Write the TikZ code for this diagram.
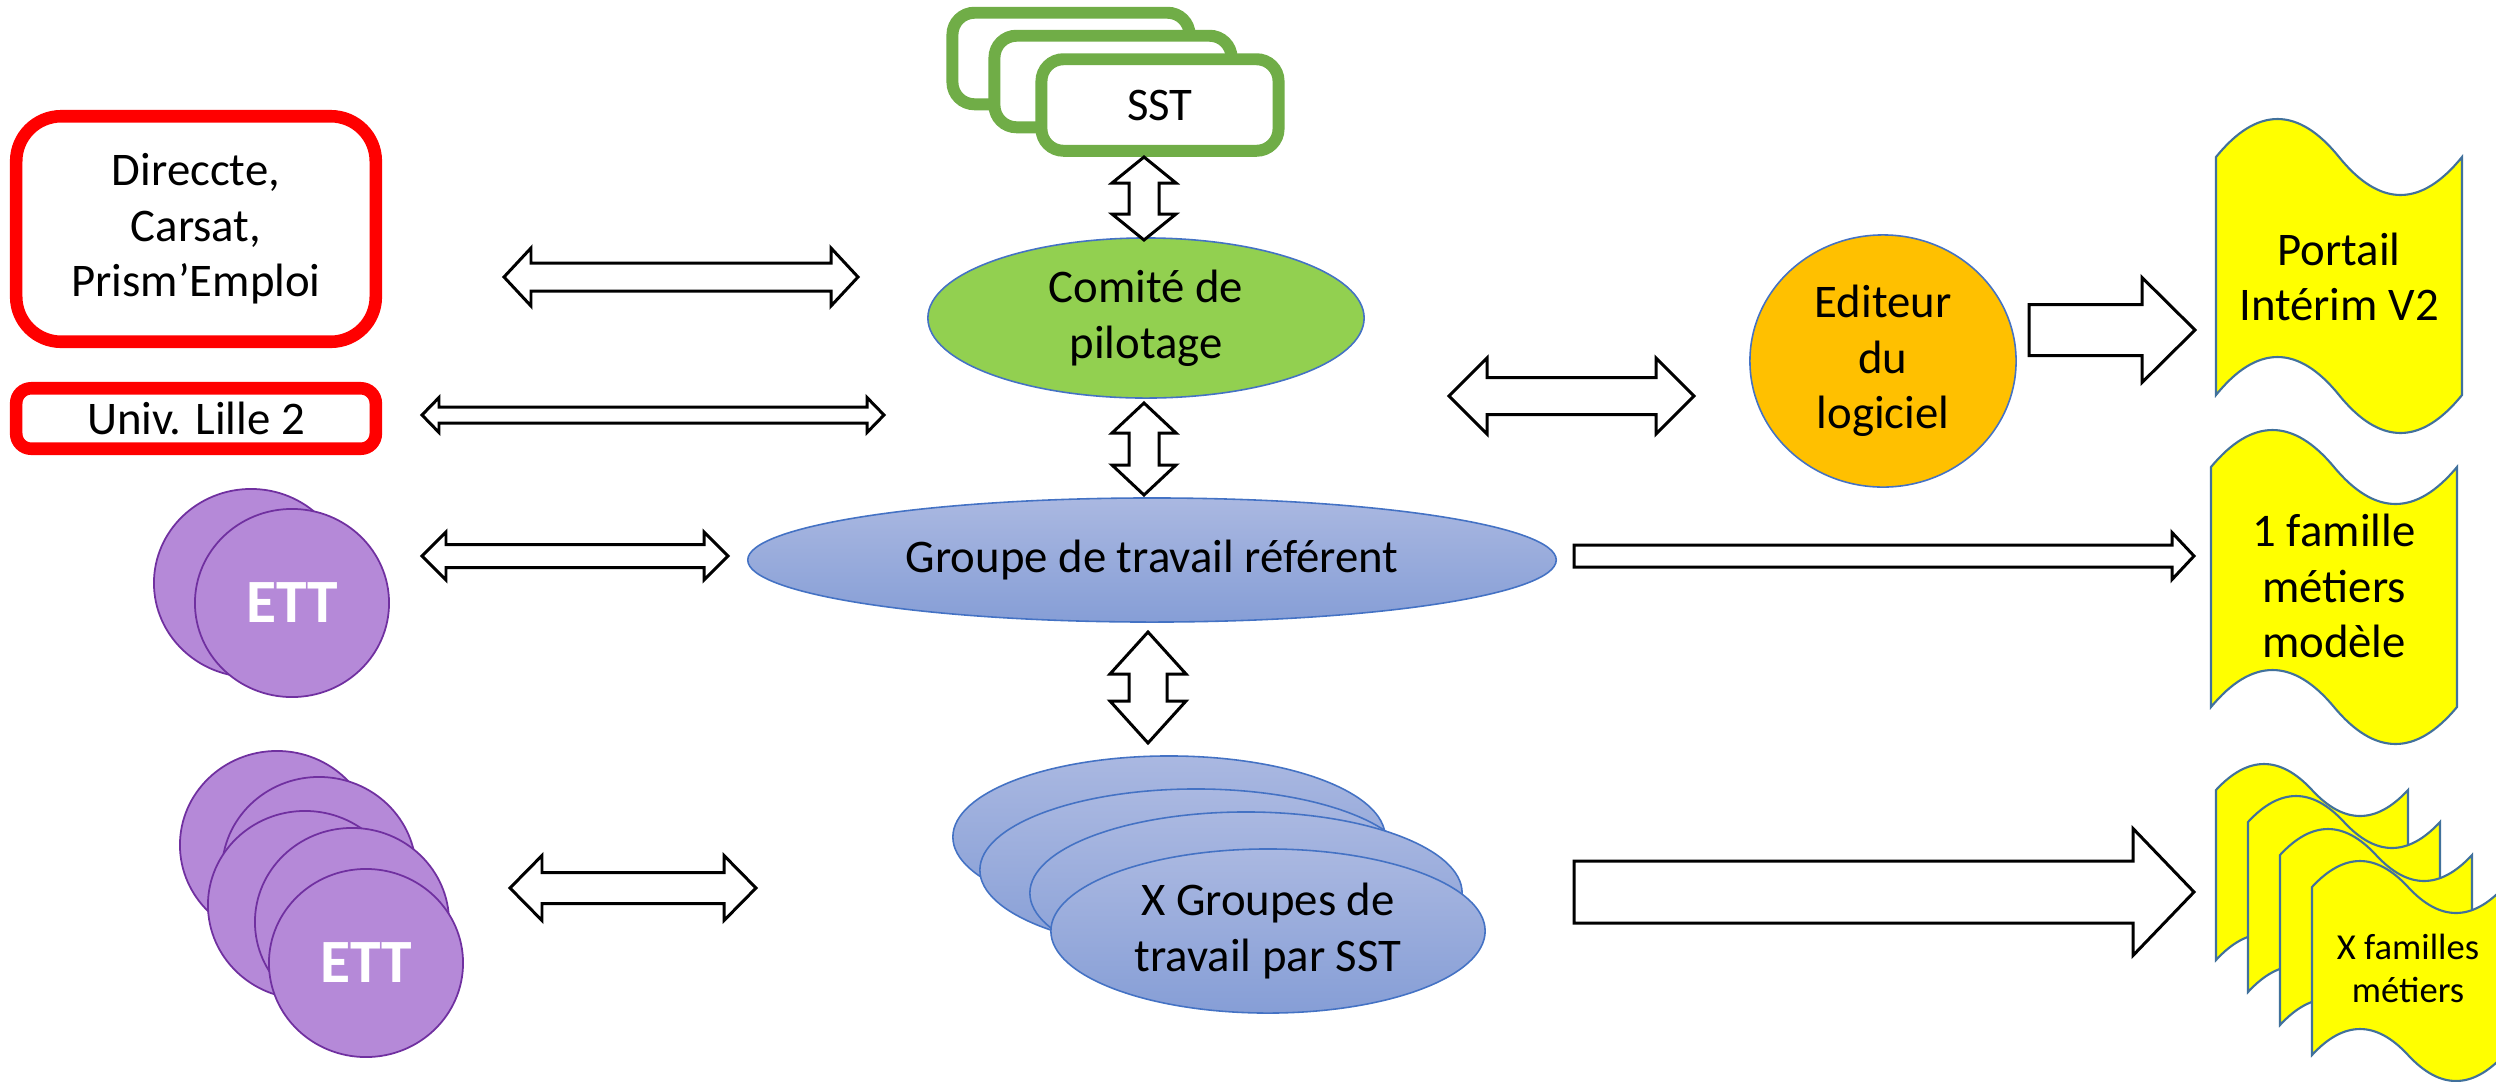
\documentclass[tikz,border=0pt]{standalone}
\usepackage{fontspec}
\setmainfont{Carlito}
\usetikzlibrary{shapes.geometric,calc}
\definecolor{sstgreen}{HTML}{70AD47}
\definecolor{comgreen}{HTML}{92D050}
\definecolor{edgeblue}{HTML}{4472C4}
\definecolor{ediorange}{HTML}{FFC000}
\definecolor{ettpurple}{RGB}{181,137,216}
\definecolor{ettedge}{HTML}{7030A0}
\definecolor{gtop}{RGB}{170,184,225}
\definecolor{gbot}{RGB}{134,158,214}
\definecolor{wavefill}{HTML}{FFFF00}
\definecolor{waveedge}{HTML}{41719C}
\tikzset{
 txt/.style={font=\fontsize{13.3pt}{15.8pt}\selectfont, align=center},
 smalltxt/.style={font=\fontsize{10.4pt}{12.2pt}\selectfont, align=center},
 sstbox/.style={draw=sstgreen, line width=3.4pt, fill=white, rounded corners=0.22cm, minimum width=2.37cm, minimum height=0.915cm, inner sep=0},
 redbox/.style={draw=red, line width=3.58pt, fill=white, inner sep=0, minimum width=3.594cm},
 ovalnode/.style={ellipse, draw=edgeblue, line width=0.45pt, inner sep=0},
 ettdisc/.style={ellipse, draw=ettedge, line width=0.5pt, fill=ettpurple, minimum width=1.94cm, minimum height=1.88cm, inner sep=0, font=\fontsize{17.5pt}{20pt}\selectfont\bfseries, text=white},
 grp/.style={ovalnode, top color=gtop, bottom color=gbot},
 blk/.style={draw=black, line width=0.85pt, fill=white, line join=miter},
 wavestyle/.style={draw=waveedge, line width=0.6pt, fill=wavefill},
}
% horizontal double block arrow: #1 left tip, #2 right tip, #3 shaft half, #4 head half, #5 head length
\newcommand{\dblH}[5]{\draw[blk] (#1) -- ($(#1)+(#5,-#4)$) -- ($(#1)+(#5,-#3)$) -- ($(#2)+(-#5,-#3)$) -- ($(#2)+(-#5,-#4)$) -- (#2) -- ($(#2)+(-#5,#4)$) -- ($(#2)+(-#5,#3)$) -- ($(#1)+(#5,#3)$) -- ($(#1)+(#5,#4)$) -- cycle;}
% vertical double block arrow: #1 top tip, #2 bottom tip
\newcommand{\dblV}[5]{\draw[blk] (#1) -- ($(#1)+(#4,#5)$) -- ($(#1)+(#3,#5)$) -- ($(#2)+(#3,-#5)$) -- ($(#2)+(#4,-#5)$) -- (#2) -- ($(#2)+(-#4,-#5)$) -- ($(#2)+(-#3,-#5)$) -- ($(#1)+(-#3,#5)$) -- ($(#1)+(-#4,#5)$) -- cycle;}
% single block arrow: #1 tail centre, #2 tip
\newcommand{\sglH}[5]{\draw[blk] ($(#1)+(0,-#3)$) -- ($(#2)+(-#5,-#3)$) -- ($(#2)+(-#5,-#4)$) -- (#2) -- ($(#2)+(-#5,#4)$) -- ($(#2)+(-#5,#3)$) -- ($(#1)+(0,#3)$) -- cycle;}
% punched tape: L T W B a
\newcommand{\wavebox}[5]{\draw[wavestyle] (#1,#2) .. controls ({#1+#3/6},{#2-1.333*#5}) and ({#1+#3/3},{#2-1.333*#5}) .. ({#1+#3/2},#2) .. controls ({#1+2*#3/3},{#2+1.333*#5}) and ({#1+5*#3/6},{#2+1.333*#5}) .. ({#1+#3},#2) -- ({#1+#3},#4) .. controls ({#1+5*#3/6},{#4+1.333*#5}) and ({#1+2*#3/3},{#4+1.333*#5}) .. ({#1+#3/2},#4) .. controls ({#1+#3/3},{#4-1.333*#5}) and ({#1+#3/6},{#4-1.333*#5}) .. (#1,#4) -- cycle;}
\begin{document}
\begin{tikzpicture}[x=0.01cm, y=-0.01cm]
\useasboundingbox (0,0) rectangle (2496,1081);
\clip (0,0) rectangle (2496,1081);
\fill[white] (0,0) rectangle (2496,1081);

% SST stack
\node[sstbox] (sst3) at (1071,58.5) {};
\node[sstbox] (sst2) at (1113,81.5) {};
\node[sstbox, txt] (sst) at (1160,105) {SST};

% left boxes
\node[redbox, txt, rounded corners=0.45cm, minimum height=2.254cm] (dir) at (196,229) {Direccte,\\Carsat,\\Prism’Emploi};
\node[redbox, txt, rounded corners=0.15cm, minimum height=0.604cm] (univ) at (196,418.5) {Univ. Lille 2};

% centre ovals
\node[ovalnode, fill=comgreen, txt, minimum width=4.36cm, minimum height=1.6cm] (com) at (1146,318) {Comité de\\pilotage};
\node[grp, txt, minimum width=8.08cm, minimum height=1.24cm] (grp) at (1152,560) {Groupe de travail référent};
\node[ovalnode, fill=ediorange, txt, minimum width=2.66cm, minimum height=2.52cm] (edi) at (1883,361) {Editeur\\du\\logiciel};

% X groupes stack
\node[grp, minimum width=4.32cm, minimum height=1.62cm] (xg1) at (1169,837) {};
\node[grp, minimum width=4.32cm, minimum height=1.62cm] (xg2) at (1196,870) {};
\node[grp, minimum width=4.32cm, minimum height=1.62cm] (xg3) at (1246,893) {};
\node[grp, txt, minimum width=4.34cm, minimum height=1.64cm] (xg) at (1268,931) {X Groupes de\\travail par SST};

% ETT discs
\node[ettdisc] (ett1b) at (251,583) {};
\node[ettdisc] (ett1) at (292,603) {ETT};
\node[ettdisc] (ett2a) at (277,845) {};
\node[ettdisc] (ett2b) at (319,871) {};
\node[ettdisc] (ett2c) at (305,905) {};
\node[ettdisc] (ett2d) at (352,922) {};
\node[ettdisc] (ett2) at (366,963) {ETT};

% yellow outputs
\wavebox{2216}{157}{246}{395}{38}
\node[txt] (portail) at (2339,277) {Portail\\Intérim V2};
\wavebox{2211}{467}{246}{707}{37}
\node[txt] (fam1) at (2334,586) {1 famille\\métiers\\modèle};
\wavebox{2216}{790}{192}{960}{26}
\wavebox{2248}{822}{192}{992}{26}
\wavebox{2280}{855}{192}{1025}{26}
\wavebox{2312}{887}{192}{1055}{26}
\node[smalltxt] (famx) at (2408,968) {X familles\\métiers};

% arrow end points
\coordinate (a1l) at (504,277);  \coordinate (a1r) at (858,277);
\coordinate (a2l) at (422,415);  \coordinate (a2r) at (884,415);
\coordinate (a3l) at (422,556);  \coordinate (a3r) at (728,556);
\coordinate (a4l) at (510,888);  \coordinate (a4r) at (756,888);
\coordinate (a5l) at (1449,396); \coordinate (a5r) at (1694,396);
\coordinate (v1t) at (1144,157); \coordinate (v1b) at (1144,240);
\coordinate (v2t) at (1144,403); \coordinate (v2b) at (1144,495);
\coordinate (v3t) at (1148,632); \coordinate (v3b) at (1148,743);
\coordinate (s1a) at (2029,330); \coordinate (s1b) at (2195,330);
\coordinate (s2a) at (1574,556); \coordinate (s2b) at (2194,556);
\coordinate (s3a) at (1574,892); \coordinate (s3b) at (2194,892);

\dblH{a1l}{a1r}{14}{29}{27}
\dblH{a2l}{a2r}{8}{17.5}{17}
\dblH{a3l}{a3r}{11.5}{24}{24}
\dblH{a4l}{a4r}{15.5}{32.5}{32}
\dblH{a5l}{a5r}{18.5}{38}{38}
\dblV{v1t}{v1b}{15}{32}{26}
\dblV{v2t}{v2b}{15}{32}{30}
\dblV{v3t}{v3b}{19}{38}{42}
\sglH{s1a}{s1b}{25.5}{52.5}{53}
\sglH{s2a}{s2b}{11}{23.5}{22}
\sglH{s3a}{s3b}{31}{63.5}{61}
\end{tikzpicture}
\end{document}
